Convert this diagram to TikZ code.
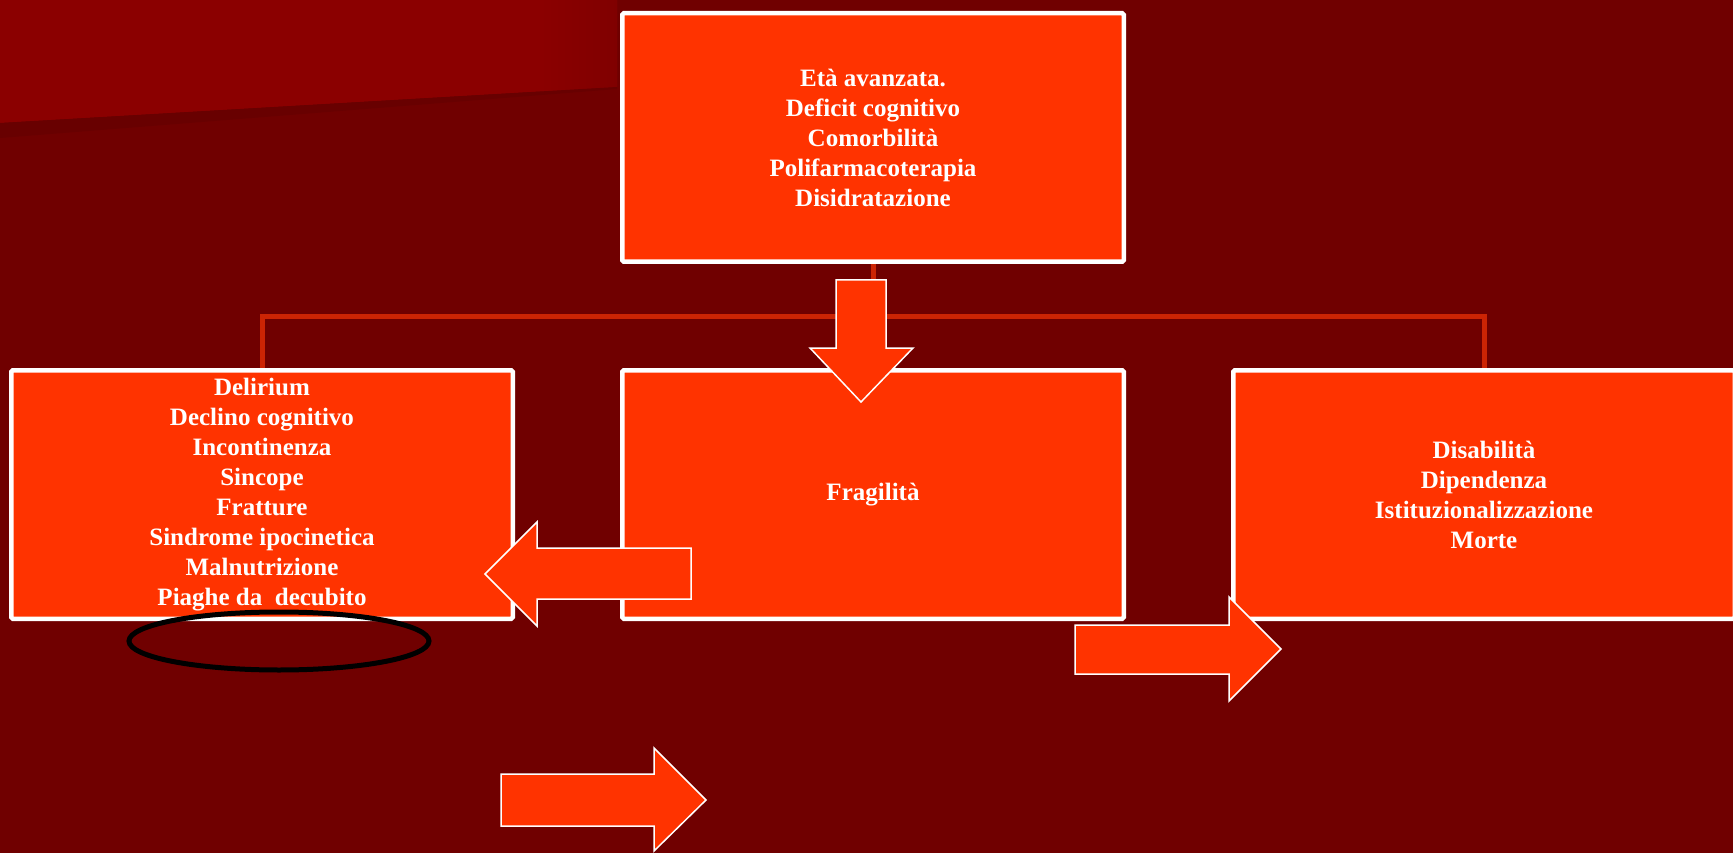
\documentclass[tikz,border=0pt]{standalone}
\usepackage{fontspec}
\setmainfont{Liberation Serif}
\definecolor{bgred}{RGB}{112,0,0}
\definecolor{wedgered}{RGB}{139,0,0}
\definecolor{wedgeend}{RGB}{128,0,0}
\definecolor{shadowred}{RGB}{104,0,0}
\definecolor{boxfill}{RGB}{255,51,0}
\definecolor{linkred}{RGB}{204,36,4}
\begin{document}
\begin{tikzpicture}[x=1pt,y=-1pt,
  box/.style={draw=white, line width=4.5pt, fill=boxfill, rounded corners=1.5pt,
    minimum width=501.5pt, minimum height=248.5pt, inner sep=0pt,
    align=center, text=white, font=\fontsize{25}{30}\selectfont\bfseries},
  blockarrow/.style={fill=boxfill, draw=white, line width=1.5pt, line join=miter},
  link/.style={draw=linkred, line width=5pt},
  ring/.style={draw=black, line width=5pt}]

% background and the lighter band in the upper left
\useasboundingbox (0,0) rectangle (1733,853);
\fill[bgred] (0,0) rectangle (1733,853);
\fill[wedgered] (0,0) -- (617,0) -- (617,87) -- (0,123) -- cycle;
\shade[left color=wedgered, right color=wedgeend] (540,0) -- (617,0) -- (617,87) -- (540,91.5) -- cycle;
\fill[shadowred] (0,123) -- (617,87) -- (617,89) -- (0,138) -- cycle;

% connectors of the chart
\coordinate (busL) at (262,316);
\coordinate (busR) at (1484,316);
\coordinate (topfoot) at (873,263);
\coordinate (midhead) at (873,368);
\draw[link] (topfoot) -- (topfoot |- busL);
\draw[link] (262,368) -- (busL) -- (busR) -- (1484,368);
\draw[link] (midhead) -- (midhead |- busL);

% boxes
\node[box] (top) at (873,137.5) {Età avanzata.\\Deficit cognitivo\\Comorbilità\\Polifarmacoterapia\\Disidratazione};
\node[box] (left) at (262,494.5) {Delirium\\Declino cognitivo\\Incontinenza\\Sincope\\Fratture\\Sindrome ipocinetica\\Malnutrizione\\Piaghe da\ \ decubito};
\node[box] (mid) at (873,494.5) {Fragilità};
\node[box] (right) at (1484,494.5) {Disabilità\\Dipendenza\\Istituzionalizzazione\\Morte};

% block arrows
\draw[blockarrow] (836,280) -- (886,280) -- (886,348) -- (913,348) -- (861,402) -- (810,348) -- (836,348) -- cycle;
\draw[blockarrow] (691,548) -- (691,599) -- (537,599) -- (537,626) -- (485,574) -- (537,522) -- (537,548) -- cycle;
\draw[blockarrow] (1075,625) -- (1229,625) -- (1229,597) -- (1281,649) -- (1229,701) -- (1229,674) -- (1075,674) -- cycle;
\draw[blockarrow] (501,774) -- (654,774) -- (654,748) -- (706,800) -- (654,851) -- (654,826) -- (501,826) -- cycle;

% ellipse under the first box
\draw[ring] (279,641) ellipse [x radius=150, y radius=29];
\end{tikzpicture}
\end{document}
